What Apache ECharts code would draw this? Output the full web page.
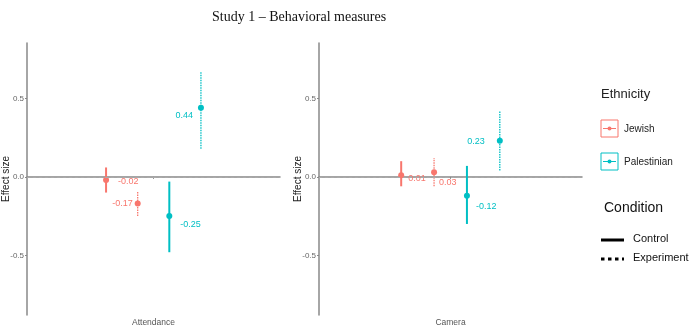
<!DOCTYPE html>
<html>
<head>
<meta charset="utf-8">
<script src="https://cdn.jsdelivr.net/npm/echarts@6/dist/echarts.min.js"></script>
<style>
  html, body { margin: 0; padding: 0; background: #fff; }
  #chart { width: 689px; height: 327px; }
</style>
</head>
<body>
<div id="chart"></div>
<script>
// groups in dodge order: Jewish-Control, Jewish-Experiment, Palestinian-Control, Palestinian-Experiment
var ethnicities = ['Jewish', 'Palestinian']
var conditions = ['Control', 'Experiment']
var measures = ['Attendance', 'Camera']
var yTicks = [-0.5, 0, 0.5]

var attendanceMean = [-0.02, -0.17, -0.25, 0.44]
var attendanceLow = [-0.10, -0.25, -0.48, 0.18]
var attendanceHigh = [0.06, -0.09, -0.03, 0.67]

var cameraMean = [0.01, 0.03, -0.12, 0.23]
var cameraLow = [-0.06, -0.06, -0.30, 0.04]
var cameraHigh = [0.10, 0.12, 0.07, 0.42]

var colors = ['#F8766D', '#00BFC4']
var dodge = [-0.1875, -0.0625, 0.0625, 0.1875] // fraction of band width
// label placement [dx, dy, align] per group, pixels from the point
var attendanceNudge = [[12, 1, 'left'], [-5, 0, 'right'], [11, 8, 'left'], [-8, 8, 'right']]
var cameraNudge = [[7, 3, 'left'], [5, 10, 'left'], [9, 11, 'left'], [-15, 1, 'right']]

function buildData (mean, low, high) {
  var out = []
  for (var i = 0; i < mean.length; i++) {
    out.push([0, mean[i], low[i], high[i], i])
  }
  return out
}

function makeRender (nudge) {
  return function (params, api) {
    var g = api.value(4)
    var band = api.size([1, 0])[0]
    var c = api.coord([0, api.value(1)])
    var x = c[0] + dodge[g] * band
    var yLo = api.coord([0, api.value(2)])[1]
    var yHi = api.coord([0, api.value(3)])[1]
    var col = colors[Math.floor(g / 2)]
    var dotted = g % 2 === 1
    var n = nudge[g]
    return {
      type: 'group',
      children: [
        {
          type: 'line',
          shape: { x1: x, y1: yLo, x2: x, y2: yHi },
          style: dotted
            ? { stroke: col, lineWidth: 1.3, lineDash: [1.5, 1] }
            : { stroke: col, lineWidth: 2 }
        },
        {
          type: 'circle',
          shape: { cx: x, cy: c[1], r: 3 },
          style: { fill: col }
        },
        {
          type: 'text',
          x: x + n[0],
          y: c[1] + n[1],
          style: {
            text: api.value(1).toFixed(2),
            fill: col,
            fontSize: 9,
            fontFamily: 'Liberation Sans',
            align: n[2],
            verticalAlign: 'middle'
          }
        }
      ]
    }
  }
}

function yAxisFor (idx) {
  return {
    type: 'value',
    gridIndex: idx,
    min: -0.88,
    max: 0.853,
    name: 'Effect size',
    nameLocation: 'middle',
    nameGap: 16,
    nameMoveOverlap: false,
    nameRotate: 90,
    nameTextStyle: { color: '#222', fontSize: 10, fontFamily: 'Liberation Sans' },
    axisLine: { show: true, lineStyle: { color: '#888', width: 1.5 } },
    axisTick: { show: true, length: 2, customValues: yTicks, lineStyle: { color: '#888' } },
    axisLabel: {
      customValues: yTicks,
      margin: 3,
      color: '#666',
      fontSize: 8,
      fontFamily: 'Liberation Sans',
      formatter: function (v) { return v.toFixed(1) }
    },
    splitLine: { show: false }
  }
}

function xAxisFor (idx) {
  return {
    type: 'category',
    gridIndex: idx,
    data: [measures[idx]],
    axisLine: { show: true, lineStyle: { color: '#888', width: 1.5 } },
    axisTick: { show: true, alignWithLabel: true, length: 2, lineStyle: { color: '#888' } },
    axisLabel: { margin: 3, color: '#555', fontSize: 8.5, fontFamily: 'Liberation Sans' }
  }
}

function zeroLine () {
  return {
    silent: true,
    symbol: 'none',
    label: { show: false },
    lineStyle: { color: '#aaa', type: [3, 3], width: 1 },
    data: [{ yAxis: 0 }]
  }
}

var legendGraphics = [
  { type: 'text', x: 601, y: 94, style: { text: 'Ethnicity', fontSize: 13, fontFamily: 'Liberation Sans', fill: '#222', verticalAlign: 'middle' } }
]
ethnicities.forEach(function (name, i) {
  var y0 = 120 + i * 33
  legendGraphics.push(
    { type: 'rect', shape: { x: 601, y: y0, width: 17, height: 17 }, style: { fill: '#fff', stroke: colors[i], lineWidth: 1 } },
    { type: 'line', shape: { x1: 603, y1: y0 + 8.5, x2: 616, y2: y0 + 8.5 }, style: { stroke: colors[i], lineWidth: 1 } },
    { type: 'circle', shape: { cx: 609.5, cy: y0 + 8.5, r: 2 }, style: { fill: colors[i] } },
    { type: 'text', x: 624, y: y0 + 9, style: { text: name, fontSize: 10, fontFamily: 'Liberation Sans', fill: '#222', verticalAlign: 'middle' } }
  )
})
legendGraphics.push(
  { type: 'text', x: 604, y: 208, style: { text: 'Condition', fontSize: 14, fontFamily: 'Liberation Sans', fill: '#111', verticalAlign: 'middle' } }
)
conditions.forEach(function (name, i) {
  var y0 = 240 + i * 19
  legendGraphics.push(
    { type: 'line', shape: { x1: 601, y1: y0, x2: 624, y2: y0 },
      style: i === 0 ? { stroke: '#000', lineWidth: 3 } : { stroke: '#000', lineWidth: 3, lineDash: [3.5, 3.5] } },
    { type: 'text', x: 633, y: y0 - 1, style: { text: name, fontSize: 11, fontFamily: 'Liberation Sans', fill: '#111', verticalAlign: 'middle' } }
  )
})

var option = {
  animation: false,
  backgroundColor: '#fff',
  title: {
    text: 'Study 1 \u2013 Behavioral measures',
    left: 207,
    top: 5,
    textStyle: { fontFamily: 'Liberation Serif', fontSize: 14, fontWeight: 'normal', color: '#111' }
  },
  grid: [
    { left: 27, right: 409, top: 43, bottom: 12, containLabel: false, outerBoundsMode: 'none' },
    { left: 319, right: 107, top: 43, bottom: 12, containLabel: false, outerBoundsMode: 'none' }
  ],
  xAxis: [xAxisFor(0), xAxisFor(1)],
  yAxis: [yAxisFor(0), yAxisFor(1)],
  series: [
    {
      type: 'custom',
      xAxisIndex: 0,
      yAxisIndex: 0,
      encode: { x: 0, y: 1 },
      renderItem: makeRender(attendanceNudge),
      data: buildData(attendanceMean, attendanceLow, attendanceHigh),
      markLine: zeroLine(),
      z: 3
    },
    {
      type: 'custom',
      xAxisIndex: 1,
      yAxisIndex: 1,
      encode: { x: 0, y: 1 },
      renderItem: makeRender(cameraNudge),
      data: buildData(cameraMean, cameraLow, cameraHigh),
      markLine: zeroLine(),
      z: 3
    }
  ],
  graphic: legendGraphics
}

var chart = echarts.init(document.getElementById('chart'), null, { renderer: 'canvas' })
chart.setOption(option)
</script>
</body>
</html>
